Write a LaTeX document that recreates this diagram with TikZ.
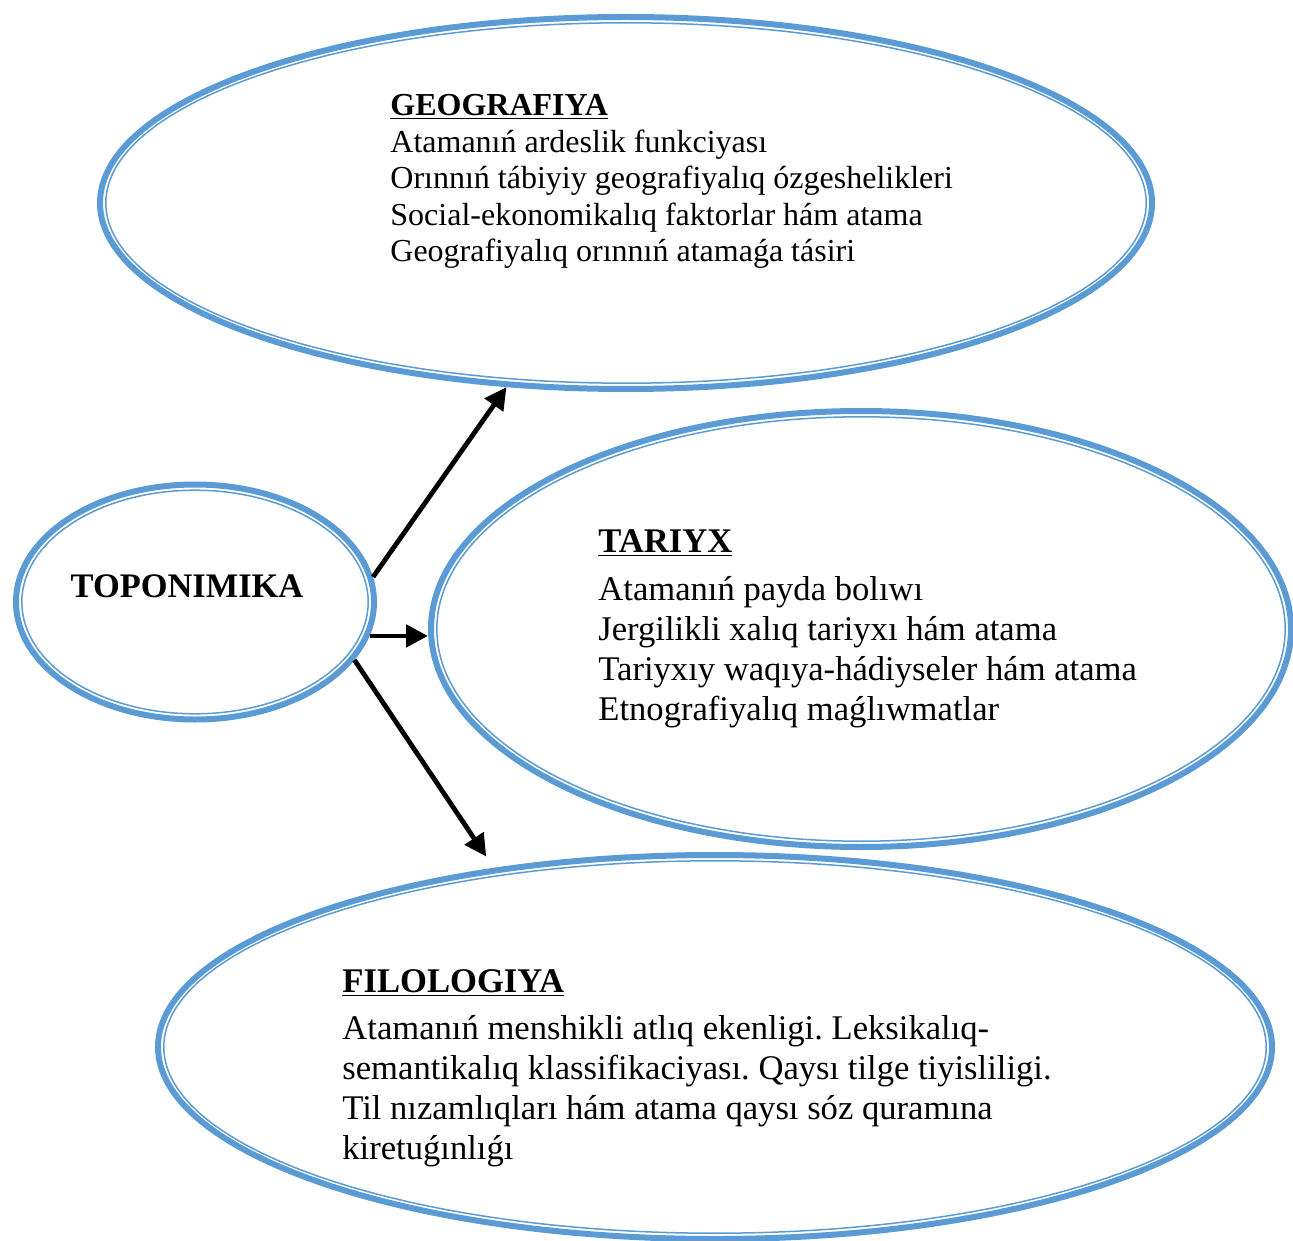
\documentclass[tikz,border=0pt]{standalone}
\usepackage{fontspec}
\setmainfont{Liberation Serif}
\frenchspacing
\usetikzlibrary{shapes.geometric,arrows.meta}
\definecolor{ringblue}{HTML}{5B9BD5}
\tikzset{
  ring/.style={ellipse,draw=ringblue,line width=3pt,inner sep=0pt},
  ringin/.style={draw=ringblue,line width=0.75pt},
  txt/.style={anchor=north west,inner sep=0pt,align=left},
  arr/.style={-{Triangle[length=11pt,width=11pt]},line width=2.4pt}
}

\begin{document}
\begin{tikzpicture}[x=0.5pt,y=-0.5pt]
\useasboundingbox (0,0) rectangle (1293,1240);
% rings
\node[ring,minimum width=526pt,minimum height=186pt] (geo) at (626,203) {};
\draw[ringin] (geo.center) ellipse [x radius=260.1pt, y radius=90.1pt];
\node[ring,minimum width=179pt,minimum height=117.5pt] (topo) at (195,602) {};
\draw[ringin] (topo.center) ellipse [x radius=86.6pt, y radius=55.9pt];
\node[ring,minimum width=430pt,minimum height=218pt] (tar) at (861,629) {};
\draw[ringin] (tar.center) ellipse [x radius=212.1pt, y radius=106.1pt];
\node[ring,minimum width=557pt,minimum height=192pt] (filo) at (715,1047) {};
\draw[ringin] (filo.center) ellipse [x radius=275.6pt, y radius=93.1pt];
% texts
\node[font=\fontsize{17.2}{20}\selectfont\bfseries] (topotxt) at (187,586) {TOPONIMIKA};
\node[txt,font=\fontsize{16}{18.25}\selectfont] (geotxt) at (390,94)
  {\textbf{\underline{GEOGRAFIYA}}\\
   Atamanıń ardeslik funkciyası\\
   Orınnıń tábiyiy geografiyalıq ózgeshelikleri\\
   Social-ekonomikalıq faktorlar hám atama\\
   Geografiyalıq orınnıń atamaǵa tásiri};
\node[txt,font=\fontsize{17.3}{20}\selectfont] (tartxt) at (598,529)
  {\textbf{\underline{TARIYX}}\\[4pt]
   Atamanıń payda bolıwı\\
   Jergilikli xalıq tariyxı hám atama\\
   Tariyxıy waqıya-hádiyseler hám atama\\
   Etnografiyalıq maǵlıwmatlar};
\node[txt,font=\fontsize{17.3}{20}\selectfont] (filotxt) at (342,969)
  {\textbf{\underline{FILOLOGIYA}}\\[3.5pt]
   Atamanıń menshikli atlıq ekenligi. Leksikalıq-\\
   semantikalıq klassifikaciyası. Qaysı tilge tiyisliligi.\\
   Til nızamlıqları hám atama qaysı sóz quramına\\
   kiretuǵınlıǵı};
% arrows
\draw[arr] (topo.8) -- (geo.237);
\draw[arr] (topo.-11) -- (topo.-11 -| tar.west);
\draw[arr,shorten >=6.8pt] (topo.-20) -- (filo.141.7);
\end{tikzpicture}
\end{document}
